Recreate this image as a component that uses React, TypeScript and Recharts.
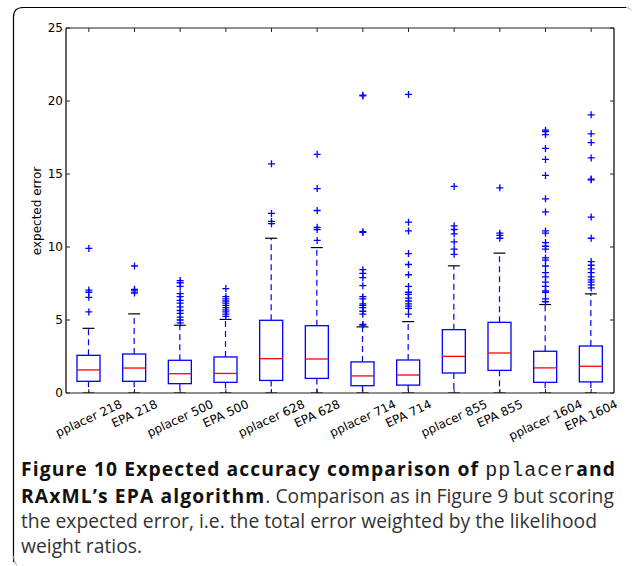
import { Bar, ComposedChart, Scatter, XAxis, YAxis } from 'recharts';

const categories = [
  'pplacer 218', 'EPA 218', 'pplacer 500', 'EPA 500', 'pplacer 628', 'EPA 628',
  'pplacer 714', 'EPA 714', 'pplacer 855', 'EPA 855', 'pplacer 1604', 'EPA 1604',
];
const whiskerLow = [0, 0, 0, 0, 0, 0, 0, 0, 0, 0, 0, 0];
const q1 = [0.8, 0.8, 0.64, 0.73, 0.86, 1.0, 0.5, 0.54, 1.37, 1.55, 0.73, 0.76];
const medians = [1.58, 1.71, 1.32, 1.34, 2.35, 2.33, 1.17, 1.23, 2.51, 2.74, 1.72, 1.83];
const q3 = [2.58, 2.67, 2.24, 2.47, 4.98, 4.61, 2.13, 2.26, 4.34, 4.84, 2.86, 3.22];
const whiskerHigh = [4.43, 5.42, 4.64, 5.04, 10.6, 9.96, 4.53, 4.89, 8.71, 9.58, 6.06, 6.79];
const outliers = [
  [9.9, 7.05, 6.9, 6.55, 5.55],
  [8.7, 7.1, 7.0, 6.85],
  [7.7, 7.55, 7.3, 6.8, 6.6, 6.35, 6.15, 5.9, 5.65, 5.45, 5.2, 5.0, 4.8],
  [7.15, 6.6, 6.45, 6.3, 6.15, 6.0, 5.85, 5.7, 5.55, 5.4, 5.25],
  [15.7, 12.3, 11.75, 11.6],
  [16.35, 14.0, 12.5, 11.35, 11.2, 10.45],
  [20.4, 20.35, 11.05, 11.0, 8.45, 8.2, 7.9, 7.35, 6.6, 6.45, 6.1, 6.0, 5.85, 5.6, 5.4, 4.7, 4.65],
  [20.45, 11.7, 11.1, 9.55, 8.8, 8.1, 7.3, 6.9, 6.75, 6.5, 6.3, 6.1, 5.95, 5.8, 5.4],
  [14.15, 11.45, 11.2, 10.9, 10.35, 9.85, 9.5],
  [14.05, 10.95, 10.8, 10.6],
  [18.0, 17.9, 17.7, 16.75, 16.0, 14.9, 13.3, 12.4, 11.1, 10.95, 10.3, 10.05, 9.85, 9.25, 9.1,
    8.7, 8.25, 7.95, 7.6, 7.3, 7.0, 6.9, 6.45, 6.25],
  [19.05, 17.75, 17.15, 16.1, 14.65, 14.6, 12.05, 10.6, 9.0, 8.75, 8.5, 8.25, 7.95, 7.75, 7.6,
    7.4, 7.2],
];
const yTicks = [0, 5, 10, 15, 20, 25];

const data = categories.map((name, i) => ({
  name,
  lo: whiskerLow[i],
  q1: q1[i],
  med: medians[i],
  q3: q3[i],
  hi: whiskerHigh[i],
  span: [whiskerLow[i], whiskerHigh[i]],
}));

const outlierPoints = categories.flatMap((name, i) => outliers[i].map(v => ({ name, v })));

const BLUE = '#0000ff';
const AXIS = '#222';
const TICK_FONT = '"DejaVu Sans", sans-serif';

// rough DejaVu Sans advance widths (em) for the tick labels
const charW: Record<string, number> = {
  p: 0.635, l: 0.278, a: 0.613, c: 0.55, e: 0.615, r: 0.411, ' ': 0.318,
  E: 0.632, P: 0.603, A: 0.684,
};
const textWidth = (s: string, size: number) =>
  s.split('').reduce((w, ch) => w + (charW[ch] ?? 0.636), 0) * size;

const BoxShape = (props: any) => {
  const { x, y, width, height, payload } = props;
  const { lo, hi } = payload;
  const px = (v: number) => y + ((hi - v) / (hi - lo)) * height;
  const cx = x + width / 2;
  const capHalf = width * 0.26;
  return (
    <g>
      <line x1={cx} x2={cx} y1={px(payload.q3)} y2={px(hi)} stroke={BLUE} strokeWidth={1.2} strokeDasharray="6 4" />
      <line x1={cx} x2={cx} y1={px(payload.q1)} y2={px(lo)} stroke={BLUE} strokeWidth={1.2} strokeDasharray="6 4" />
      <line x1={cx - capHalf} x2={cx + capHalf} y1={px(hi)} y2={px(hi)} stroke="#000" strokeWidth={1.2} />
      <line x1={cx - capHalf} x2={cx + capHalf} y1={px(lo)} y2={px(lo)} stroke="#000" strokeWidth={1.2} />
      <rect x={x} y={px(payload.q3)} width={width} height={px(payload.q1) - px(payload.q3)} fill="none" stroke={BLUE} strokeWidth={1.3} />
      <line x1={x} x2={x + width} y1={px(payload.med)} y2={px(payload.med)} stroke="#ff0000" strokeWidth={1.3} />
    </g>
  );
};

const Plus = (props: any) => {
  const { cx, cy } = props;
  if (cx == null || cy == null) return null;
  return (
    <path d={`M${cx - 3.5},${cy}H${cx + 3.5}M${cx},${cy - 3.5}V${cy + 3.5}`} stroke={BLUE} strokeWidth={1.3} fill="none" />
  );
};

const BottomTick = (props: any) => {
  const { x, y, payload } = props;
  const label = String(payload.value);
  const w = textWidth(label, 12);
  const a = (25 * Math.PI) / 180;
  const cy = y + 4 + (w * Math.sin(a) + 14 * Math.cos(a)) / 2;
  return (
    <g>
      <line x1={x} x2={x} y1={y} y2={y - 4} stroke={AXIS} />
      <text x={x} y={cy} textAnchor="middle" dominantBaseline="central" fontSize={12}
        fontFamily={TICK_FONT} fill="#000" transform={`rotate(-25, ${x}, ${cy})`}>
        {label}
      </text>
    </g>
  );
};

const TopTick = (props: any) => {
  const { x, y } = props;
  return <line x1={x} x2={x} y1={y} y2={y + 4} stroke={AXIS} />;
};

const LeftTick = (props: any) => {
  const { x, y, payload } = props;
  return (
    <g>
      <line x1={x} x2={x + 4} y1={y} y2={y} stroke={AXIS} />
      <text x={x - 3} y={y} textAnchor="end" dominantBaseline="central" fontSize={12}
        fontFamily={TICK_FONT} fill="#000">
        {payload.value}
      </text>
    </g>
  );
};

const RightTick = (props: any) => {
  const { x, y } = props;
  return <line x1={x} x2={x - 4} y1={y} y2={y} stroke={AXIS} />;
};

const BoxPlotChart = () => (
  <ComposedChart width={634} height={460} data={data}
    margin={{ top: 27, right: 19, bottom: 20, left: 10 }} barSize={23}>
    <XAxis dataKey="name" type="category" allowDuplicatedCategory={false} interval={0}
      height={47} tickSize={0} tickMargin={0} tick={<BottomTick />}
      axisLine={{ stroke: AXIS, strokeWidth: 1.2 }} tickLine={false} />
    <XAxis xAxisId="top" orientation="top" dataKey="name" type="category"
      allowDuplicatedCategory={false} interval={0} height={1} tickSize={0} tickMargin={0}
      tick={<TopTick />} axisLine={{ stroke: AXIS, strokeWidth: 1.2 }} tickLine={false} />
    <YAxis type="number" domain={[0, 25]} ticks={yTicks} allowDataOverflow width={56}
      tickSize={0} tickMargin={0} tick={<LeftTick />}
      axisLine={{ stroke: AXIS, strokeWidth: 1.4 }} tickLine={false} />
    <YAxis yAxisId="right" orientation="right" type="number" domain={[0, 25]} ticks={yTicks}
      allowDataOverflow width={1} tickSize={0} tickMargin={0} tick={<RightTick />}
      axisLine={{ stroke: AXIS, strokeWidth: 1.4 }} tickLine={false} />
    <Bar dataKey="span" shape={<BoxShape />} isAnimationActive={false} />
    <Scatter data={outlierPoints} dataKey="v" shape={<Plus />} isAnimationActive={false} />
  </ComposedChart>
);

const bold = { fontWeight: 700, color: '#111', letterSpacing: 1.1 };

export default function App() {
  return (
    <div style={{ position: 'absolute', left: 0, top: 0, width: 634, height: 566, background: '#fff' }}>
      <svg width={634} height={566} style={{ position: 'absolute', left: 0, top: 0 }}>
        <path d="M13.5,562 V17 Q13.5,7.5 23,7.5 H626" fill="none" stroke="#000" strokeWidth={1.2} />
        <path d="M626,7.5 Q629,7.5 631,10" fill="none" stroke="#aaa" strokeWidth={1} />
        <path d="M13.5,556 Q13.5,563 17,565" fill="none" stroke="#888" strokeWidth={1} />
      </svg>
      <div style={{ position: 'absolute', left: 0, top: 0 }}>
        <BoxPlotChart />
      </div>
      <svg width={60} height={440} style={{ position: 'absolute', left: 0, top: 0 }}>
        <text x={37} y={211} textAnchor="middle" dominantBaseline="central" fontSize={12}
          fontFamily={TICK_FONT} fill="#000" transform="rotate(-90, 37, 211)">
          expected error
        </text>
      </svg>
      <div style={{
        position: 'absolute', left: 21, top: 456, fontFamily: '"Open Sans", sans-serif',
        fontSize: 19.3, lineHeight: '25px', color: '#333', whiteSpace: 'nowrap',
      }}>
        <div>
          <span style={bold}>Figure 10 Expected accuracy comparison of </span>
          <span style={{ fontFamily: '"Liberation Mono", monospace', fontSize: 20, letterSpacing: 1, color: '#222' }}>pplacer</span>
          <span style={bold}>and</span>
        </div>
        <div>
          <span style={bold}>RAxML’s EPA algorithm</span>. Comparison as in Figure 9 but scoring
        </div>
        <div>the expected error, i.e. the total error weighted by the likelihood</div>
        <div>weight ratios.</div>
      </div>
    </div>
  );
}
